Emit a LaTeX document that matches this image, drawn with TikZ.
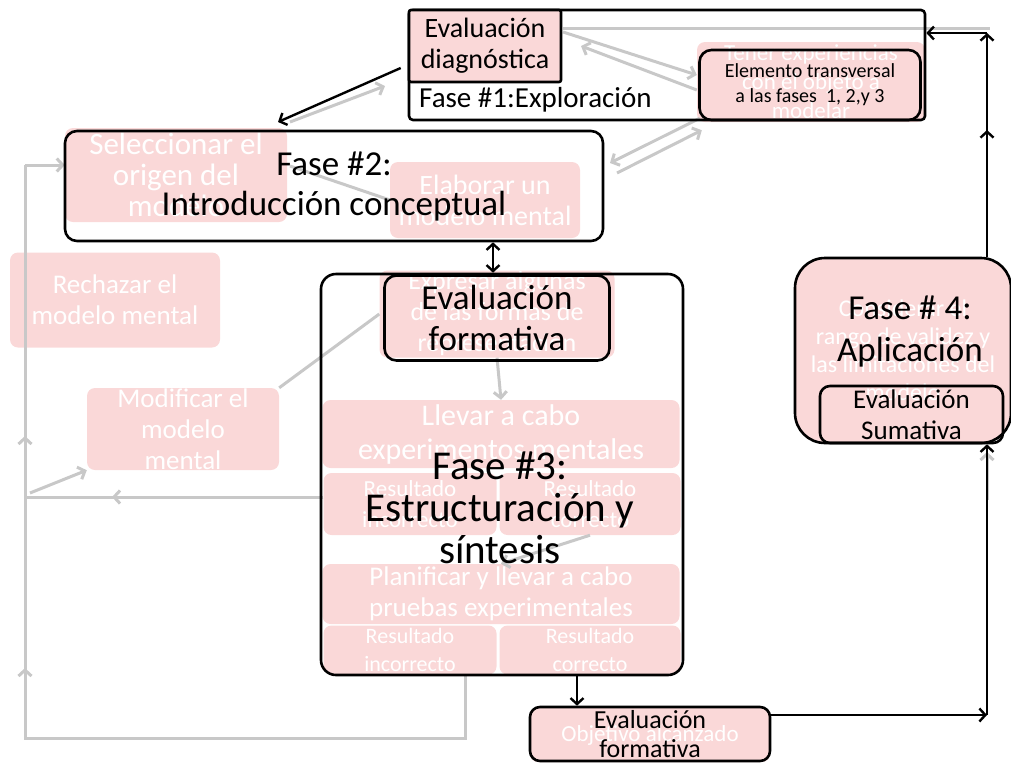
\documentclass[tikz,border=0pt]{standalone}
\usepackage{fontspec}
\setmainfont{Carlito}
\usetikzlibrary{arrows.meta}
\definecolor{rosa}{RGB}{250,216,216}
\definecolor{grisc}{RGB}{200,200,200}

\begin{document}
\begin{tikzpicture}[x=1pt,y=-1pt,
  fondo/.style={rectangle,rounded corners=8pt,fill=rosa,text=white,align=center,inner sep=0pt,font=\fontsize{27}{31}\selectfont},
  marco/.style={rectangle,draw,line width=2.6pt,rounded corners=#1,inner sep=0pt,align=center},
  marco/.default=10pt,
  texto/.style={align=center,inner sep=0pt},
  negra/.style={-{Straight Barb[length=6pt,width=13pt]},line width=2.4pt},
  gris/.style={draw=grisc,line width=3pt},
  grisf/.style={gris,-{Straight Barb[length=6pt,width=13pt]}}]
\useasboundingbox (0,0) rectangle (1011,764);

\node[fondo,minimum width=228pt,minimum height=80pt,font=\fontsize{23}{29}\selectfont] (tener) at (811,82) {Tener experiencias\\con el objeto a\\modelar};
\node[fondo,minimum width=222pt,minimum height=94pt,font=\fontsize{31}{31}\selectfont] (selecc) at (176,175) {Seleccionar el\\origen del\\modelo};
\node[fondo,minimum width=190pt,minimum height=76pt,font=\fontsize{28}{31}\selectfont] (elabor) at (485,200) {Elaborar un\\modelo mental};
\node[fondo,minimum width=210pt,minimum height=95pt] (rechaz) at (115,300) {Rechazar el\\modelo mental};
\node[fondo,minimum width=192pt,minimum height=82pt] (modif) at (183,429) {Modificar el\\modelo\\mental};
\node[fondo,minimum width=235pt,minimum height=87pt,font=\fontsize{26}{31}\selectfont] (expres) at (497,314) {Expresar algunas\\de las formas de\\representación};
\node[fondo,minimum width=357pt,minimum height=68pt,font=\fontsize{30}{34}\selectfont] (llevar) at (501,434) {Llevar a cabo\\experimentos mentales};
\node[fondo,minimum width=173pt,minimum height=62pt,font=\fontsize{23}{31}\selectfont] (resinc1) at (410,504) {Resultado\\incorrecto};
\node[fondo,minimum width=181pt,minimum height=62pt,font=\fontsize{23}{31}\selectfont] (rescor1) at (590,504) {Resultado\\correcto};
\node[fondo,minimum width=357pt,minimum height=60pt] (planif) at (501,594) {Planificar y llevar a cabo\\pruebas experimentales};
\node[fondo,minimum width=173pt,minimum height=49pt,font=\fontsize{22}{28}\selectfont] (resinc2) at (410,650) {Resultado\\incorrecto};
\node[fondo,minimum width=181pt,minimum height=49pt,font=\fontsize{22}{28}\selectfont] (rescor2) at (590,650) {Resultado\\correcto};
\node[fondo,minimum width=240pt,minimum height=54pt,font=\fontsize{23}{24}\selectfont] (objet) at (650,735) {Objetivo alcanzado};
\node[fondo,rounded corners=30pt,minimum width=216pt,minimum height=185pt,font=\fontsize{24}{28}\selectfont] (consid) at (903,350) {Considerar el\\rango de validez y\\las limitaciones del\\modelo};

\coordinate (gini) at (563,28);
\coordinate (gtop) at (990,28);
\coordinate (gizq) at (25,738);
\coordinate (gbaj) at (465,738);
\coordinate (gsel) at (25,165);
\coordinate (gmed) at (25,497);
\draw[gris] (gini) -- (gtop);
\draw[grisf] (563,32) -- ([yshift=7pt]tener.west);
\draw[grisf] ([yshift=-8pt]tener.west) -- (581,46);
\draw[grisf] ([shift={(3pt,4pt)}]tener.south west) -- (610,163);
\draw[grisf] (617,173) -- ([shift={(5pt,-8pt)}]tener.south west);
\draw[grisf] (290,122) -- (385,86);
\draw[gris] (290,166) -- (elabor.west);
\draw[gris] ([xshift=55pt]resinc2.south) -- ([xshift=55pt]resinc2.south |- gbaj) -- (gizq) -- (gsel);
\draw[grisf] (gsel) -- (selecc.west |- gsel);
\draw[grisf] (gizq) -- (25,668);
\draw[grisf] (gmed) -- (25,436);
\draw[gris] (resinc1.west |- gmed) -- (gmed);
\draw[grisf] (resinc1.west |- gmed) -- (112,497);
\draw[grisf] (30,493) -- (modif.south west);
\draw[gris] (modif.north east) -- (expres.west);
\draw[grisf] (expres.south) -- (llevar.north);
\draw[grisf] (rescor1.south) -- (planif.north);
\draw[grisf] (987,500) -- (987,452);

\node[marco=4pt,minimum width=516pt,minimum height=110pt] (fase1) at (667,65) {};
\node[marco=2pt,fill=rosa,minimum width=152pt,minimum height=72pt,font=\fontsize{28}{31}\selectfont] (evdiag) at (485,46) {Evaluación\\diagnóstica};
\node[texto,font=\fontsize{29}{28}\selectfont,anchor=west] (exp) at (419,100) {Fase \#1:Exploración};
\node[marco=12pt,minimum width=221pt,minimum height=70pt,font=\fontsize{20}{25}\selectfont] (elemento) at (810,85) {Elemento transversal\\a las fases~~1, 2,y 3};
\node[marco=12pt,minimum width=538pt,minimum height=110pt,font=\fontsize{35}{40}\selectfont] (fase2) at (334,186) {Fase \#2:\\Introducción conceptual};
\node[marco=15pt,minimum width=362pt,minimum height=401pt] (fase3) at (502,474.5) {};
\node[texto,font=\fontsize{41}{42}\selectfont] (est) at (500,508) {Fase \#3:\\Estructuración y\\síntesis};
\node[marco=12pt,minimum width=225pt,minimum height=85pt,font=\fontsize{35}{41}\selectfont] (evform) at (497,318) {Evaluación\\formativa};
\node[marco=10pt,minimum width=240pt,minimum height=54pt,font=\fontsize{26}{29}\selectfont] (evform2) at (650,734) {Evaluación\\formativa};
\node[marco=30pt,minimum width=216pt,minimum height=185pt] (fase4) at (903,350.5) {};
\node[texto,font=\fontsize{35}{42}\selectfont] (apl) at (910,331) {Fase \# 4:\\Aplicación};
\node[marco=10pt,minimum width=183pt,minimum height=57pt,font=\fontsize{27}{31}\selectfont] (evsum) at (911.5,414.5) {Evaluación\\Sumativa};

\coordinate (esq1) at (987,715);
\coordinate (esq2) at (987,33);
\draw[negra] (evdiag.west |- 0,68) ++(-7,0) -- (278,122);
\draw[negra,{Straight Barb[length=6pt,width=13pt]}-{Straight Barb[length=6pt,width=13pt]}] (fase2.south -| 493,0) -- (fase3.north -| 493,0);
\draw[negra] (fase3.south -| 577,0) -- (evform2.north -| 577,0);
\draw[negra] (evform2.east |- esq1) -- (esq1);
\draw[negra] (esq1) -- (fase4.south -| esq1);
\draw[negra] (fase4.north -| esq1) -- (987,130);
\draw[negra] (987,135) -- (esq2);
\draw[negra] (esq2) -- (fase1.east |- esq2);
\end{tikzpicture}
\end{document}
